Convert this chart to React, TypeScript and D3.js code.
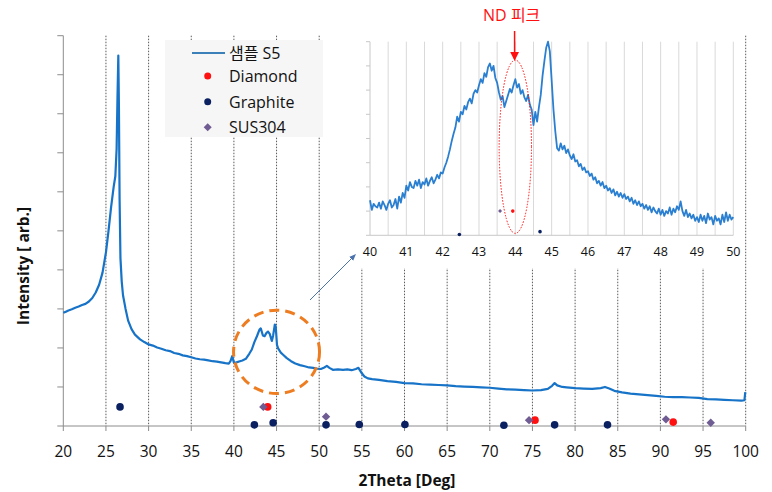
import React from "react";
import * as d3 from "d3";

// ---------- Main XRD pattern (2θ in degrees, intensity in arb.) ----------
const mainTheta = [
  20.0, 20.3, 20.6, 21.0, 21.4, 21.8, 22.2, 22.6, 23.0, 23.4, 23.8, 24.2, 24.6, 25.0, 25.3, 25.6, 25.9, 26.1,
  26.25, 26.35, 26.45, 26.52, 26.6, 26.7, 26.85, 27.0, 27.3, 27.6, 28.0, 28.4, 29.0, 29.5, 30.0, 30.5, 31.0,
  31.5, 32.0, 32.5, 33.0, 33.5, 34.0, 34.5, 35.0, 35.5, 36.0, 36.5, 37.0, 37.5, 38.0, 38.5, 39.0, 39.4, 39.6,
  39.8, 40.0, 40.3, 40.7, 41.0, 41.4, 41.8, 42.1, 42.4, 42.7, 43.0, 43.15, 43.4, 43.6, 43.8, 44.0, 44.2, 44.45,
  44.6, 44.8, 44.9, 45.05, 45.2, 45.5, 45.8, 46.2, 46.7, 47.2, 47.75, 48.3, 48.8, 49.3, 49.7, 50.2, 50.6, 50.9,
  51.2, 51.6, 52.2, 52.8, 53.3, 53.8, 54.3, 54.6, 55.0, 55.3, 55.7, 56.2, 57.0, 58.0, 59.0, 60.0, 61.0, 62.0,
  63.0, 64.0, 65.0, 66.0, 67.0, 68.0, 69.0, 70.0, 71.0, 72.0, 73.0, 74.0, 75.0, 76.0, 76.8, 77.3, 77.6, 77.9,
  78.5, 79.0, 80.0, 81.0, 82.0, 83.0, 83.5, 84.0, 84.6, 85.5, 86.5, 87.5, 88.5, 89.5, 90.5, 91.5, 92.5, 93.5,
  94.5, 95.5, 96.5, 97.5, 98.5, 99.5, 99.85, 99.95,
];
const mainIntensity = [
  2.90, 2.93, 2.96, 2.99, 3.03, 3.06, 3.10, 3.13, 3.19, 3.28, 3.42, 3.62, 3.93, 4.45, 5.00, 5.60, 6.12, 6.40,
  7.10, 8.40, 9.49, 8.20, 5.80, 4.30, 3.70, 3.35, 3.00, 2.70, 2.48, 2.34, 2.22, 2.15, 2.09, 2.06, 2.01,
  1.98, 1.94, 1.92, 1.87, 1.85, 1.81, 1.79, 1.76, 1.73, 1.71, 1.70, 1.68, 1.66, 1.65, 1.63, 1.61, 1.60, 1.66,
  1.79, 1.62, 1.63, 1.66, 1.68, 1.72, 1.85, 1.96, 2.15, 2.30, 2.47, 2.50, 2.32, 2.30, 2.38, 2.42, 2.36, 2.18,
  2.32, 2.60, 2.55, 2.08, 1.98, 1.88, 1.82, 1.74, 1.66, 1.60, 1.56, 1.53, 1.50, 1.49, 1.47, 1.46, 1.50, 1.54,
  1.49, 1.44, 1.45, 1.44, 1.45, 1.43, 1.46, 1.49, 1.35, 1.27, 1.22, 1.20, 1.18, 1.15, 1.13, 1.10, 1.09, 1.07,
  1.06, 1.05, 1.04, 1.02, 1.01, 1.00, 0.99, 0.98, 0.96, 0.94, 0.93, 0.92, 0.91, 0.92, 0.95, 1.03, 1.10, 1.04,
  1.00, 0.99, 0.97, 0.96, 0.95, 0.97, 1.00, 0.96, 0.90, 0.86, 0.83, 0.81, 0.79, 0.77, 0.75, 0.74, 0.74, 0.73,
  0.72, 0.69, 0.68, 0.67, 0.66, 0.65, 0.66, 0.87,
];

// ---------- Reference peak markers ----------
const diamondTheta = [43.96, 75.3, 91.5];
const diamondLevel = [0.49, 0.15, 0.1];
const graphiteTheta = [26.65, 42.4, 44.6, 50.8, 54.7, 60.05, 71.65, 77.6, 83.8];
const graphiteLevel = [0.49, 0.03, 0.085, 0.03, 0.04, 0.04, 0.02, 0.03, 0.03];
const susTheta = [43.45, 50.8, 74.6, 90.65, 95.9];
const susLevel = [0.49, 0.24, 0.15, 0.17, 0.085];

// ---------- Inset: 40–50° zoom (step 0.05°) ----------
const insetStart = 40;
const insetStep = 0.05;
const insetIntensity = [
  1.45, 1.05, 1.30, 1.20, 1.15, 1.35, 1.10, 1.40, 1.25, 1.05, 1.30, 1.45, 1.15, 1.25, 1.50, 1.10, 1.60, 1.35, 1.75, 1.55,
  2.05, 1.85, 2.20, 2.00, 1.95, 2.25, 2.05, 2.30, 1.95, 2.20, 2.10, 2.35, 2.05, 2.25, 2.40, 2.15, 2.30, 2.50, 2.35, 2.60,
  2.55, 2.80, 3.00, 3.25, 3.55, 3.90, 4.20, 4.45, 4.90, 4.70, 5.10, 5.00, 5.35, 5.20, 5.50, 5.65, 5.45, 5.85, 6.00, 5.90,
  6.20, 6.45, 6.30, 6.70, 6.55, 6.95, 7.10, 6.80, 7.00, 6.50, 6.30, 5.90, 5.60, 5.75, 5.30, 5.55, 5.80, 6.05, 5.90, 6.20,
  6.45, 6.10, 6.25, 5.85, 6.00, 5.70, 5.55, 5.80, 5.40, 5.20, 4.55, 5.10, 4.70, 5.30, 5.80, 6.60, 7.20, 7.75, 8.00, 7.60,
  6.40, 5.20, 4.30, 3.60, 3.50, 3.80, 3.55, 3.70, 3.40, 3.55, 3.30, 3.15, 3.35, 3.05, 3.10, 2.85, 2.95, 2.70, 2.80, 2.60,
  2.65, 2.45, 2.55, 2.30, 2.40, 2.15, 2.25, 2.05, 2.20, 1.95, 2.05, 1.85, 1.95, 1.75, 1.90, 1.65, 1.80, 1.60, 1.75, 1.55,
  1.70, 1.50, 1.60, 1.40, 1.55, 1.30, 1.45, 1.25, 1.40, 1.20, 1.30, 1.10, 1.25, 1.05, 1.20, 0.95, 1.15, 1.00, 0.90, 1.10,
  0.85, 1.05, 0.80, 1.00, 0.90, 1.15, 0.85, 1.10, 0.95, 1.20, 1.05, 1.40, 1.00, 0.80, 1.05, 0.75, 0.90, 0.70, 0.85, 0.60,
  0.75, 0.55, 0.85, 0.60, 0.80, 0.50, 0.90, 0.65, 0.75, 0.45, 0.80, 0.60, 0.70, 0.45, 0.85, 0.55, 0.95, 0.60, 0.85, 0.65,
  0.75,
];
const insetDiamondTheta = [43.93];
const insetDiamondLevel = [1.0];
const insetGraphiteTheta = [42.46, 44.68];
const insetGraphiteLevel = [0.03, 0.15];
const insetSusTheta = [43.58];
const insetSusLevel = [1.0];

const mainTicks = [20, 25, 30, 35, 40, 45, 50, 55, 60, 65, 70, 75, 80, 85, 90, 95, 100];
const insetTicks = [40, 41, 42, 43, 44, 45, 46, 47, 48, 49, 50];
const legendLabels = ["샘플 S5", "Diamond", "Graphite", "SUS304"];

const FONT = "'Open Sans','Noto Sans CJK KR',sans-serif";
const LINE_BLUE = "#1673c7";
const RED = "#ff1010";
const NAVY = "#0b2060";
const PURPLE = "#6e5c92";

function Diamond({ cx, cy, r, fill }: { cx: number; cy: number; r: number; fill: string }) {
  return <path d={`M${cx},${cy - r}L${cx + r},${cy}L${cx},${cy + r}L${cx - r},${cy}Z`} fill={fill} />;
}

export default function App() {
  const W = 772;
  const H = 492;

  // main scales
  const x = d3.scaleLinear().domain([20, 100]).range([63.3, 745.7]);
  const y = d3.scaleLinear().domain([0, 10]).range([426, 35.7]);

  const mainData = mainTheta.map((t, i) => [t, mainIntensity[i]] as [number, number]);
  const mainLine = d3
    .line<[number, number]>()
    .x((d) => x(d[0]))
    .y((d) => y(d[1]));

  // inset scales
  const ix = d3.scaleLinear().domain([40, 50]).range([370, 733.3]);
  const iy = d3.scaleLinear().domain([0, 8]).range([235.3, 41.7]);
  const insetData = insetIntensity.map((v, i) => [insetStart + i * insetStep, v] as [number, number]);
  const insetLine = d3
    .line<[number, number]>()
    .x((d) => ix(d[0]))
    .y((d) => iy(d[1]));

  const gridVals = d3.range(25, 100.01, 5);
  const yTicks = d3.range(0, 10.01, 1);
  const insetGrid = d3.range(40.5, 50.01, 0.5);
  const insetYTicks = d3.range(0, 8.01, 1);

  // annotation geometry
  const circ = { cx: x(45), cy: y(1.9), rx: 43, ry: 41.7 };
  const ell = {
    cx: ix(44.0),
    cy: (iy(7.24) + iy(0.08)) / 2,
    rx: (ix(44.45) - ix(43.56)) / 2,
    ry: (iy(0.08) - iy(7.24)) / 2,
  };
  const ndX = ix(43.98);

  return (
    <svg
      width={W}
      height={H}
      viewBox={`0 0 ${W} ${H}`}
      style={{ position: "absolute", left: 0, top: 0, background: "#fff" }}
      fontFamily={FONT}
    >
      <defs>
        <marker id="arrBlue" viewBox="0 0 10 10" refX="8" refY="5" markerWidth="7" markerHeight="7" orient="auto">
          <path d="M0,1L10,5L0,9Z" fill="#4a72ac" />
        </marker>
        <marker id="arrRed" viewBox="0 0 10 10" refX="8" refY="5" markerWidth="6" markerHeight="6" orient="auto">
          <path d="M0,0L10,5L0,10Z" fill={RED} />
        </marker>
      </defs>
      <rect x={0} y={0} width={W} height={H} fill="#fff" />

      {/* main gridlines */}
      {gridVals.map((g) => (
        <line
          key={"g" + g}
          x1={x(g)}
          x2={x(g)}
          y1={y(10)}
          y2={y(0)}
          stroke="#5a5a5a"
          strokeWidth={1}
          strokeDasharray="1.5,1.5"
        />
      ))}

      {/* y axis */}
      <line x1={x(20)} x2={x(20)} y1={y(10)} y2={y(0)} stroke="#8c8c8c" strokeWidth={1} />
      {yTicks.map((t) => (
        <line key={"yt" + t} x1={x(20) - 6} x2={x(20)} y1={y(t)} y2={y(t)} stroke="#8c8c8c" strokeWidth={1} />
      ))}
      {/* x axis */}
      <line x1={x(20)} x2={x(100)} y1={y(0)} y2={y(0)} stroke="#8c8c8c" strokeWidth={1} />
      {mainTicks.map((t) => (
        <g key={"xt" + t}>
          <line x1={x(t)} x2={x(t)} y1={y(0)} y2={y(0) + 5} stroke="#8c8c8c" strokeWidth={1} />
          <text x={x(t)} y={y(0) + 25} textAnchor="middle" dominantBaseline="central" fontSize={15.5} fill="#111">
            {t}
          </text>
        </g>
      ))}

      {/* main curve */}
      <path d={mainLine(mainData) || ""} fill="none" stroke={LINE_BLUE} strokeWidth={2.2} strokeLinejoin="round" />

      {/* main markers */}
      {diamondTheta.map((t, i) => (
        <circle key={"d" + i} cx={x(t)} cy={y(diamondLevel[i])} r={3.8} fill={RED} />
      ))}
      {graphiteTheta.map((t, i) => (
        <circle key={"gr" + i} cx={x(t)} cy={y(graphiteLevel[i])} r={3.8} fill={NAVY} />
      ))}
      {susTheta.map((t, i) => (
        <Diamond key={"s" + i} cx={x(t)} cy={y(susLevel[i])} r={4.2} fill={PURPLE} />
      ))}

      {/* orange dashed circle */}
      <ellipse
        cx={circ.cx}
        cy={circ.cy}
        rx={circ.rx}
        ry={circ.ry}
        fill="none"
        stroke="#ee7d22"
        strokeWidth={3}
        strokeDasharray="10,6"
      />
      {/* connector arrow */}
      <line x1={310} y1={300} x2={355} y2={255} stroke="#4a72ac" strokeWidth={1} markerEnd="url(#arrBlue)" />

      {/* axis titles */}
      <text x={407} y={480} textAnchor="middle" dominantBaseline="central" fontSize={15.5} fontWeight="bold" fill="#111">
        2Theta [Deg]
      </text>
      <text
        transform={`translate(23,266) rotate(-90)`}
        textAnchor="middle"
        dominantBaseline="central"
        fontSize={15.5}
        fontWeight="bold"
        fill="#111"
      >
        Intensity [ arb.]
      </text>

      {/* legend */}
      <rect x={165} y={40} width={158} height={97} fill="#f6f6f6" />
      <line x1={192} x2={225} y1={53} y2={53} stroke="#3b80b8" strokeWidth={2.2} />
      <circle cx={207.7} cy={76} r={3.5} fill={RED} />
      <circle cx={207.7} cy={101.7} r={3.5} fill={NAVY} />
      <Diamond cx={207.7} cy={127.3} r={4} fill={PURPLE} />
      {legendLabels.map((l, i) => (
        <text key={l} x={229} y={[53, 76, 101.7, 127.3][i]} dominantBaseline="central" fontSize={16} fill="#111">
          {l}
        </text>
      ))}

      {/* inset */}
      <rect x={357} y={0} width={385} height={268} fill="#fff" />
      {insetGrid.map((g) => (
        <line key={"ig" + g} x1={ix(g)} x2={ix(g)} y1={iy(8)} y2={iy(0)} stroke="#d9d9d9" strokeWidth={1} />
      ))}
      <line x1={ix(40)} x2={ix(40)} y1={iy(8)} y2={iy(0)} stroke="#c8c8c8" strokeWidth={1} />
      {insetYTicks.map((t) => (
        <line key={"iyt" + t} x1={ix(40) - 4} x2={ix(40)} y1={iy(t)} y2={iy(t)} stroke="#c8c8c8" strokeWidth={1} />
      ))}
      <line x1={ix(40)} x2={ix(50)} y1={iy(0)} y2={iy(0)} stroke="#c8c8c8" strokeWidth={1} />
      {insetTicks.map((t) => (
        <text key={"it" + t} x={ix(t)} y={251.5} textAnchor="middle" dominantBaseline="central" fontSize={12.5} fill="#111">
          {t}
        </text>
      ))}
      <path d={insetLine(insetData) || ""} fill="none" stroke="#2a7fd0" strokeWidth={1.8} strokeLinejoin="round" />
      {insetDiamondTheta.map((t, i) => (
        <circle key={"idm" + i} cx={ix(t)} cy={iy(insetDiamondLevel[i])} r={1.8} fill={RED} />
      ))}
      {insetGraphiteTheta.map((t, i) => (
        <circle key={"igr" + i} cx={ix(t)} cy={iy(insetGraphiteLevel[i])} r={1.8} fill={NAVY} />
      ))}
      {insetSusTheta.map((t, i) => (
        <Diamond key={"isu" + i} cx={ix(t)} cy={iy(insetSusLevel[i])} r={2} fill={PURPLE} />
      ))}

      {/* ND peak annotation */}
      <ellipse
        cx={ell.cx}
        cy={ell.cy}
        rx={ell.rx}
        ry={ell.ry}
        fill="none"
        stroke={RED}
        strokeWidth={1}
        strokeDasharray="1.5,1.5"
      />
      <line x1={ndX} x2={ndX} y1={31} y2={59} stroke={RED} strokeWidth={1.5} markerEnd="url(#arrRed)" />
      <text x={511.7} y={15} textAnchor="middle" dominantBaseline="central" fontSize={16} fill={RED}>
        ND 피크
      </text>
    </svg>
  );
}
